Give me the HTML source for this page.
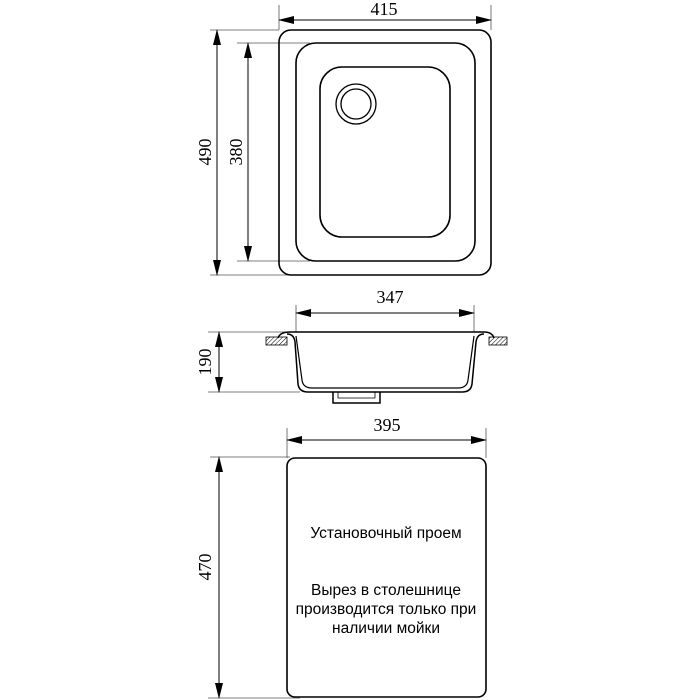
<!DOCTYPE html>
<html><head><meta charset="utf-8"><style>html,body{margin:0;padding:0;background:#fff}svg{display:block}</style></head><body>
<svg width="700" height="700" viewBox="0 0 700 700" xmlns="http://www.w3.org/2000/svg">
<defs>
<marker id="a" markerWidth="16" markerHeight="8" refX="15" refY="4" orient="auto" markerUnits="userSpaceOnUse"><path d="M0,0 L16,4 L0,8 z" fill="#000"/></marker>
<marker id="b" markerWidth="16" markerHeight="8" refX="1" refY="4" orient="auto" markerUnits="userSpaceOnUse"><path d="M16,0 L0,4 L16,8 z" fill="#000"/></marker>
<pattern id="h" width="3" height="3" patternUnits="userSpaceOnUse" patternTransform="rotate(45)"><line x1="0" y1="0" x2="0" y2="3" stroke="#000" stroke-width="1"/></pattern>
</defs>
<g font-family="Liberation Serif, serif" font-size="18" fill="#000">
<!-- top view -->
<g stroke="#555" stroke-width="0.8">
<line x1="279" y1="5" x2="279" y2="30"/><line x1="491" y1="5" x2="491" y2="30"/>
<line x1="210" y1="30" x2="279" y2="30"/><line x1="210" y1="275" x2="345" y2="275"/>
<line x1="237" y1="43" x2="310" y2="43"/><line x1="237" y1="261" x2="310" y2="261"/>
</g>
<g stroke="#000" stroke-width="1" marker-start="url(#b)" marker-end="url(#a)">
<line x1="279" y1="20" x2="491" y2="20"/>
<line x1="217" y1="30" x2="217" y2="275"/>
<line x1="248" y1="43" x2="248" y2="261"/>
</g>
<text x="384" y="15" text-anchor="middle">415</text>
<text transform="translate(211,152) rotate(-90)" text-anchor="middle">490</text>
<text transform="translate(242,152) rotate(-90)" text-anchor="middle">380</text>
<g fill="none" stroke="#000" stroke-width="1.6">
<rect x="279" y="30" width="212" height="245" rx="12"/>
<rect x="296" y="43" width="179" height="218" rx="20"/>
<rect x="320" y="67" width="130" height="170" rx="22"/>
<circle cx="356" cy="104" r="20" stroke-width="1.3"/>
<circle cx="356" cy="104" r="15" stroke-width="1.3"/>
</g>
<!-- side view -->
<g stroke="#555" stroke-width="0.8">
<line x1="296" y1="305" x2="296" y2="332"/><line x1="474" y1="305" x2="474" y2="332"/>
<line x1="208" y1="332" x2="300" y2="332"/><line x1="208" y1="392" x2="300" y2="392"/>
</g>
<g stroke="#000" stroke-width="1" marker-start="url(#b)" marker-end="url(#a)">
<line x1="296" y1="313" x2="474" y2="313"/>
<line x1="219" y1="332" x2="219" y2="392"/>
</g>
<text x="390" y="303" text-anchor="middle">347</text>
<text transform="translate(211,362) rotate(-90)" text-anchor="middle">190</text>
<rect x="266" y="337" width="21" height="8" fill="url(#h)" stroke="#000" stroke-width="0.8"/>
<rect x="489" y="337" width="18" height="8" fill="url(#h)" stroke="#000" stroke-width="0.8"/>
<g fill="none" stroke="#000" stroke-width="1.5">
<path d="M278,338 Q280,332 290,332 L484,332 Q492,332 494,338"/>
<path d="M287,334 Q294,334 295,342 L298,384 Q299,392 308,392 L462,392 Q471,392 472,384 L476,342 Q477,334 484,334"/>
<path d="M296,336 L302,380 Q303,388 312,388 L458,388 Q467,388 468,380 L474,336" stroke-width="1.2"/>
<path d="M333,392 L333,403 L380,403 L380,392"/>
<path d="M338,392 L338,398 L375,398 L375,392" stroke-width="0.8"/>
</g>
<!-- bottom -->
<g stroke="#555" stroke-width="0.8">
<line x1="287" y1="428" x2="287" y2="458"/><line x1="486" y1="428" x2="486" y2="458"/>
<line x1="210" y1="457" x2="290" y2="457"/>
<line x1="208" y1="698" x2="300" y2="698"/>
</g>
<g stroke="#000" stroke-width="1" marker-start="url(#b)" marker-end="url(#a)">
<line x1="287" y1="440" x2="486" y2="440"/>
<line x1="219" y1="457" x2="219" y2="698"/>
</g>
<text x="387" y="431" text-anchor="middle">395</text>
<text transform="translate(211,567) rotate(-90)" text-anchor="middle">470</text>
<rect x="287" y="458" width="199" height="239" rx="8" fill="none" stroke="#000" stroke-width="1.6"/>
<g font-family="Liberation Sans, sans-serif" font-size="15.5" text-anchor="middle">
<text x="386" y="538">Установочный проем</text>
<text x="386" y="595">Вырез в столешнице</text>
<text x="386" y="614">производится только при</text>
<text x="386" y="633">наличии мойки</text>
</g>
</g>
</svg>
</body></html>
